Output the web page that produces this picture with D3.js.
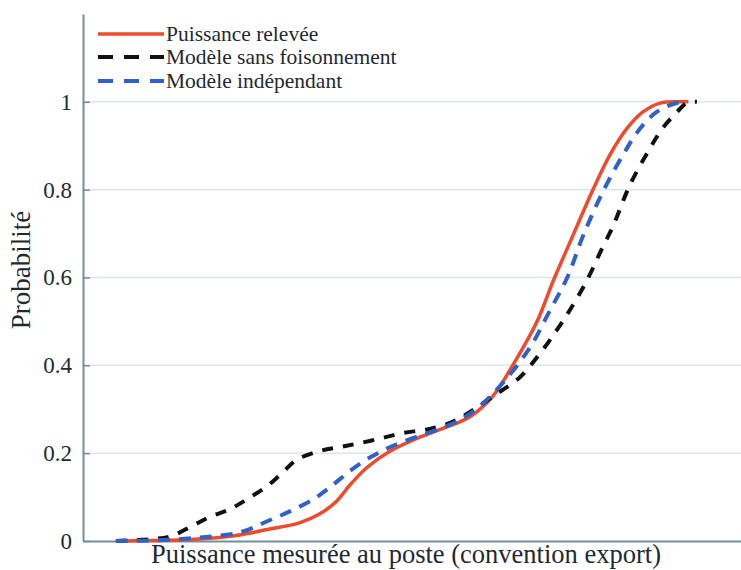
<!DOCTYPE html>
<html>
<head>
<meta charset="utf-8">
<script src="https://cdn.jsdelivr.net/npm/d3@7"></script>
<style>
  html, body { margin: 0; padding: 0; background: #fff; }
  svg { display: block; }
  text { font-family: "Liberation Serif", "Times New Roman", serif; fill: #1f2a30; }
</style>
</head>
<body>
<svg id="chart" width="741" height="570"></svg>
<script>
// ---- data (x in arbitrary power units, y = cumulative probability) ----
const seriesNames = ["Puissance relevée", "Modèle sans foisonnement", "Modèle indépendant"];
const yTicks = [0, 0.2, 0.4, 0.6, 0.8, 1];
const yTickLabels = ["0", "0.2", "0.4", "0.6", "0.8", "1"];
const xLabel = "Puissance mesurée au poste (convention export)";
const yLabel = "Probabilité";

const releveX = [5, 10, 17, 23, 28, 33, 36, 38.5, 40.6, 43.2, 46.7, 50.8, 54.3, 58.8, 62.3, 65.3, 69, 71.4, 74, 77.5, 80.1, 82.7, 85.1, 87.7, 91, 92];
const releveY = [0, 0.001, 0.004, 0.012, 0.026, 0.042, 0.062, 0.09, 0.128, 0.168, 0.205, 0.234, 0.254, 0.283, 0.33, 0.40, 0.50, 0.59, 0.68, 0.80, 0.88, 0.94, 0.977, 0.997, 1.0, 1.0];

const sansFoisX = [5, 10.2, 13.2, 16.3, 19.3, 22.3, 24.9, 28, 30.4, 32.5, 36, 39.1, 42.1, 45.6, 48.6, 52.3, 55.8, 58.4, 61.4, 63.4, 66.4, 69.5, 72, 74, 76.6, 79, 80.5, 83.1, 86.2, 88.1, 90.3, 91.8, 93.3];
const sansFoisY = [0, 0.004, 0.01, 0.032, 0.055, 0.072, 0.095, 0.125, 0.157, 0.185, 0.205, 0.214, 0.223, 0.235, 0.246, 0.254, 0.269, 0.29, 0.32, 0.34, 0.373, 0.428, 0.48, 0.526, 0.594, 0.67, 0.715, 0.81, 0.895, 0.94, 0.977, 0.998, 1.0];

const indepX = [5, 11.7, 17.8, 23.9, 28, 31.5, 35, 38, 40.6, 43.6, 46.7, 50.2, 53.8, 57.3, 60.3, 63.8, 67.9, 71, 73.6, 76, 79, 82.1, 84.7, 87.2, 90.3, 91.9];
const indepY = [0, 0.002, 0.008, 0.02, 0.045, 0.068, 0.095, 0.128, 0.16, 0.19, 0.214, 0.235, 0.253, 0.276, 0.307, 0.36, 0.44, 0.526, 0.60, 0.695, 0.795, 0.88, 0.94, 0.977, 0.998, 1.0];

// ---- layout ----
const svg = d3.select("#chart");
const plotL = 83, plotR = 741, plotT = 14, plotB = 541;

const x = d3.scaleLinear().domain([0, 100]).range([plotL, plotR]);
const y = d3.scaleLinear().domain([0, 1.2]).range([plotB, plotT]);

// gridlines
svg.append("g").selectAll("line")
  .data(yTicks.filter(d => d > 0))
  .join("line")
  .attr("x1", plotL).attr("x2", plotR)
  .attr("y1", d => y(d)).attr("y2", d => y(d))
  .attr("stroke", "#dbe5ec").attr("stroke-width", 1.5);

// y axis
const yAxis = d3.axisLeft(y).tickValues(yTicks)
  .tickFormat((d, i) => yTickLabels[i]).tickSizeInner(-7).tickSizeOuter(0).tickPadding(11);
const gy = svg.append("g").attr("transform", `translate(${plotL},0)`).call(yAxis);
gy.select(".domain").attr("stroke", "#6f8f9c").attr("stroke-width", 2);
gy.selectAll(".tick line").attr("stroke", "#6f8f9c").attr("stroke-width", 1.5);
gy.selectAll(".tick text")
  .style("font-family", '"Liberation Serif", serif').style("font-size", "23px")
  .attr("fill", "#1f2a30");

// x axis line (no ticks)
const xAxis = d3.axisBottom(x).tickValues([]).tickSizeOuter(0);
const gx = svg.append("g").attr("transform", `translate(0,${plotB})`).call(xAxis);
gx.select(".domain").attr("stroke", "#6f8f9c").attr("stroke-width", 2);

// labels
svg.append("text").attr("x", 406).attr("y", 563).attr("text-anchor", "middle")
  .style("font-size", "26.5px").text(xLabel);
svg.append("text").attr("transform", "translate(30,270) rotate(-90)")
  .attr("text-anchor", "middle").style("font-size", "27px").text(yLabel);

// curves
const line = d3.line().x(d => x(d[0])).y(d => y(d[1])).curve(d3.curveCatmullRom.alpha(0.5));
const zip = (xs, ys) => xs.map((v, i) => [v, ys[i]]);

const series = [
  { name: seriesNames[0], pts: zip(releveX, releveY), color: "#ef4a2c", width: 3.5, dash: null, legDash: null },
  { name: seriesNames[1], pts: zip(sansFoisX, sansFoisY), color: "#111111", width: 4, dash: "11,10", legDash: "15,11" },
  { name: seriesNames[2], pts: zip(indepX, indepY), color: "#2f62c8", width: 4, dash: "12,9", legDash: "15,11" }
];

svg.append("g").selectAll("path")
  .data(series)
  .join("path")
  .attr("d", d => line(d.pts))
  .attr("fill", "none")
  .attr("stroke", d => d.color)
  .attr("stroke-width", d => d.width)
  .attr("stroke-dasharray", d => d.dash);

// legend
const legY = [34, 57, 81];
const leg = svg.append("g");
series.forEach((s, i) => {
  leg.append("line").attr("x1", 98).attr("x2", 164)
    .attr("y1", legY[i]).attr("y2", legY[i])
    .attr("stroke", s.color).attr("stroke-width", s.width)
    .attr("stroke-dasharray", s.legDash);
  leg.append("text").attr("x", 166).attr("y", legY[i] + 7)
    .style("font-size", "21.5px").text(s.name);
});
</script>
</body>
</html>
